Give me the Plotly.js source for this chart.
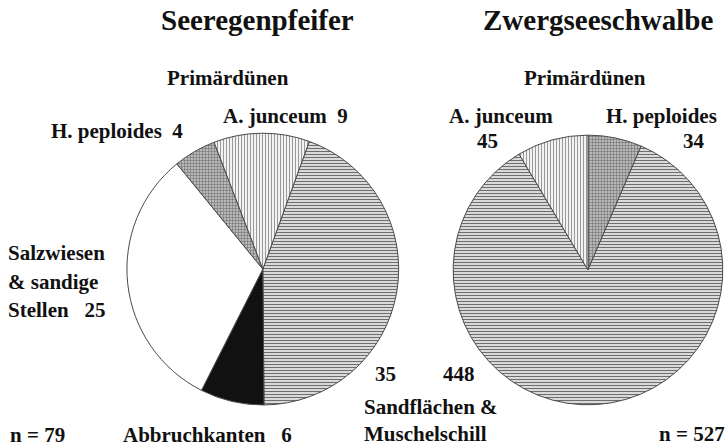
<!DOCTYPE html>
<html>
<head>
<meta charset="utf-8">
<script src="https://cdn.plot.ly/plotly-3.0.1.min.js"></script>
<style>html,body{margin:0;padding:0;background:#fff}#chart{width:725px;height:447px}</style>
</head>
<body>
<div id="chart"></div>
<script>
// Seeregenpfeifer (n = 79)
const leftCategories = ["Sandflächen & Muschelschill", "Abbruchkanten", "Salzwiesen & sandige Stellen", "H. peploides", "A. junceum"];
const leftValues = [35, 6, 25, 4, 9];
// Zwergseeschwalbe (n = 527)
const rightCategories = ["H. peploides", "Sandflächen & Muschelschill", "A. junceum"];
const rightValues = [34, 448, 45];

const titles = ["Seeregenpfeifer", "Zwergseeschwalbe"];

const style = {
  "Sandflächen & Muschelschill": {color: "#d8d8d8", pattern: {shape: "-", bgcolor: "#e2e2e2", fgcolor: "#6e6e6e", size: 3, solidity: 0.38}},
  "Abbruchkanten": {color: "#111111", pattern: {shape: ""}},
  "Salzwiesen & sandige Stellen": {color: "#ffffff", pattern: {shape: ""}},
  "H. peploides": {color: "#a8a8a8", pattern: {shape: "+", bgcolor: "#b8b8b8", fgcolor: "#646464", size: 3, solidity: 0.3}},
  "A. junceum": {color: "#eaeaea", pattern: {shape: "|", bgcolor: "#f2f2f2", fgcolor: "#909090", size: 3, solidity: 0.3}}
};

function pieTrace(cats, vals, domain, rotation) {
  return {
    type: "pie",
    labels: cats,
    values: vals,
    sort: false,
    direction: "clockwise",
    rotation: rotation,
    textinfo: "none",
    hoverinfo: "skip",
    showlegend: false,
    domain: domain,
    marker: {
      colors: cats.map(c => style[c].color),
      pattern: {
        shape: cats.map(c => style[c].pattern.shape),
        bgcolor: cats.map(c => style[c].pattern.bgcolor || style[c].color),
        fgcolor: cats.map(c => style[c].pattern.fgcolor || style[c].color),
        size: cats.map(c => style[c].pattern.size || 3),
        solidity: cats.map(c => style[c].pattern.solidity || 0.3)
      },
      line: {color: "#4a4a4a", width: 1}
    }
  };
}

const data = [
  pieTrace(leftCategories, leftValues, {x: [0.175, 0.550], y: [0.094, 0.702]}, 20),
  pieTrace(rightCategories, rightValues, {x: [0.625, 0.997], y: [0.094, 0.698]}, 0)
];

const serif = "Liberation Serif, Times New Roman, serif";
function ann(text, x, y, size, anchor) {
  return {text: text, x: x / 725, y: 1 - y / 447, xref: "paper", yref: "paper",
    xanchor: anchor || "left", yanchor: "middle", showarrow: false,
    font: {family: serif, size: size, color: "#111", weight: "bold"}};
}

const L = 21;
const annotations = [
  ann(titles[0], 257, 20, 29, "center"),
  ann(titles[1], 598, 20, 29, "center"),
  ann("Primärdünen", 228, 78, 21, "center"),
  ann("Primärdünen", 585, 78, 21, "center"),
  ann("H. peploides  " + leftValues[3], 49, 131, L),
  ann("A. junceum  " + leftValues[4], 221, 116, L),
  ann("Salzwiesen", 6, 253, L),
  ann("& sandige", 6, 282, L),
  ann("Stellen   " + leftValues[2], 6, 310, L),
  ann(String(leftValues[0]), 373, 374, L),
  ann(String(rightValues[1]), 441, 374, L),
  ann("Sandflächen &", 362, 407, L),
  ann("Muschelschill", 362, 434, L),
  ann("n = " + leftValues.reduce((a, b) => a + b, 0), 8, 435, L),
  ann("Abbruchkanten   " + leftValues[1], 121, 435, L),
  ann("n = " + rightValues.reduce((a, b) => a + b, 0), 727, 434, L, "right"),
  ann("A. junceum", 501, 116, L, "center"),
  ann(String(rightValues[2]), 487, 141, L, "center"),
  ann("H. peploides", 661, 116, L, "center"),
  ann(String(rightValues[0]), 694, 141, L, "center")
];

const layout = {
  width: 725, height: 447,
  margin: {l: 0, r: 0, t: 0, b: 0},
  paper_bgcolor: "#ffffff",
  plot_bgcolor: "#ffffff",
  showlegend: false,
  annotations: annotations
};

Plotly.newPlot("chart", data, layout, {staticPlot: true, displayModeBar: false});
</script>
</body>
</html>
